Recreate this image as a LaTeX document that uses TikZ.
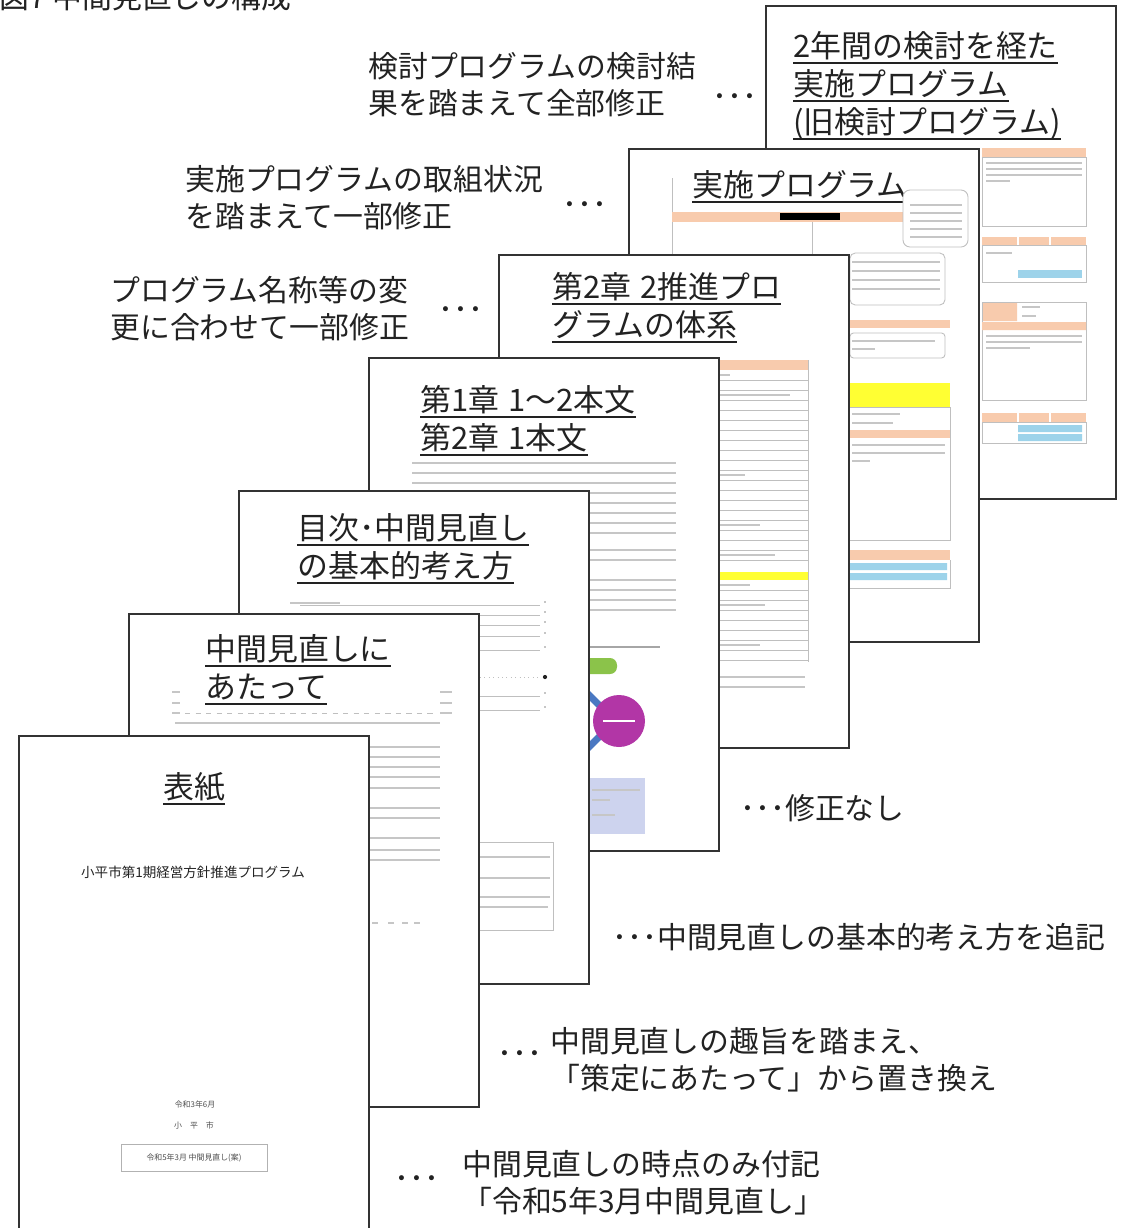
\documentclass[tikz,border=0pt]{standalone}
\usepackage{fontspec}
\setmainfont{Noto Sans CJK JP}
\definecolor{pgline}{HTML}{333333}
\definecolor{ink}{HTML}{222222}
\definecolor{hdr}{HTML}{F8CBAD}
\definecolor{hiyel}{HTML}{FFFF33}
\definecolor{barblue}{HTML}{9DD3EA}
\definecolor{grn}{HTML}{8BC34A}
\definecolor{purp}{HTML}{B236A6}
\definecolor{lnkblue}{HTML}{4A78C2}
\definecolor{lav}{HTML}{CDD3EE}
\newcommand\lblfont{\fontsize{17}{21}\selectfont}
\newcommand\ttlfont{\fontsize{17.6}{21.6}\selectfont}
\newcommand\coverfont{\fontsize{7.7}{9}\selectfont}
\newcommand\tinyfont{\fontsize{4.5}{5.5}\selectfont}
\newcommand\ulx[1]{\setbox0\hbox{#1}\rlap{\vrule height -2.6pt depth 3.7pt width \wd0}\box0}
\newcommand\chgap{\hspace{0.3em}}

\begin{document}
\begin{tikzpicture}[x=0.02cm,y=-0.02cm,
  page/.style={draw=pgline,line width=1.1pt,fill=white,anchor=north west,
    minimum width=7cm,minimum height=9.86cm,inner sep=0pt},
  ttl/.style={anchor=west,align=left,inner sep=0pt,font=\ttlfont,text=ink},
  lbl/.style={anchor=west,align=left,inner sep=0pt,font=\lblfont,text=ink},
  dots/.style={inner sep=0pt,font=\lblfont,text=ink},
  txt/.style={draw=gray!45,line width=1.2pt},
  frame/.style={draw=gray!50,line width=0.5pt},
  mini/.style={inner sep=0pt,font=\tinyfont,text=ink!80}]
\useasboundingbox (0,0) rectangle (1137,1228);
\node[anchor=base west,inner sep=0pt,font=\lblfont,text=ink] (fig) at (-1,8) {図7 中間見直しの構成};

\node[page] (p7) at (765,5) {};
\node[ttl] (t7) at (793,86) {\ulx{2年間の検討を経た}\\\ulx{実施プログラム}\\\ulx{(旧検討プログラム)}};
\fill[hdr] (982,148) rectangle (1086,157);
\draw[frame] (982,157) rectangle (1086,226);
\foreach \y/\e in {163/1082,169/1082,175/1082,181/1010}
    \draw[txt] (986,\y) -- (\e,\y);
\fill[hdr] (982,237) rectangle (1086,245);
\draw[frame] (982,245) rectangle (1086,282);
\draw[txt] (986,253) -- (1012,253);
\fill[barblue] (1018,270) rectangle (1082,278);
\draw[frame] (982,302) rectangle (1086,400);
\fill[hdr] (983,303) rectangle (1017,321) (982,322) rectangle (1086,330);
\draw[txt] (1022,307) -- (1040,307) (1022,316) -- (1036,316);
\foreach \y/\e in {336/1082,342/1082,348/1030}
    \draw[txt] (986,\y) -- (\e,\y);
\fill[hdr] (982,413) rectangle (1086,422);
\draw[frame] (982,422) rectangle (1086,443);
\fill[barblue] (1018,425) rectangle (1082,432) (1018,434) rectangle (1082,441);
\draw[white,line width=0.8pt] (1018,237) -- (1018,245) (1050,237) -- (1050,245) (1018,413) -- (1018,422) (1050,413) -- (1050,422);

\node[page] (p6) at (628,148) {};
\node[ttl] (t6) at (692,187) {\ulx{実施プログラム}};
\draw[frame] (672,178) -- (672,260) (812,222) -- (812,260);
\fill[hdr] (672,212) rectangle (905,222);
\fill[black] (780,213) rectangle (840,220);
\draw[frame,rounded corners=4pt,fill=white] (903,190) rectangle (968,247);
\foreach \y in {205,213,221,229,237}
    \draw[txt,line width=0.8pt] (910,\y) -- (962,\y);
\draw[frame,rounded corners=3pt] (850,253) rectangle (945,305);
\foreach \y in {262,271,280,289}
    \draw[txt] (852,\y) -- (940,\y);
\fill[hdr] (848,320) rectangle (950,328);
\draw[frame,rounded corners=2pt] (850,333) rectangle (945,358);
\draw[txt] (852,341) -- (935,341) (852,349) -- (875,349);
\fill[hiyel] (848,383) rectangle (950,407);
\draw[txt] (852,414) -- (900,414) (852,423) -- (893,423);
\fill[hdr] (848,430) rectangle (950,438);
\draw[txt] (852,445) -- (945,445) (852,453) -- (945,453) (852,461) -- (870,461);
\draw[frame] (848,407) -- (950,407) -- (950,540) -- (848,540);
\fill[hdr] (848,550) rectangle (950,560);
\fill[barblue] (850,563) rectangle (947,570) (850,573) rectangle (947,580);
\draw[frame] (950,560) -- (950,588) -- (848,588);

\node[page] (p5) at (498,254) {};
\node[ttl] (t5) at (552,308) {\ulx{第2章\chgap 2推進プロ}\\\ulx{グラムの体系}};
\fill[hdr] (700,360) rectangle (808,370);
\foreach \y in {380,390,...,560}
    \draw[frame] (700,\y) -- (808,\y);
\fill[hiyel] (700,572) rectangle (808,580);
\foreach \y in {590,600,...,660}
    \draw[frame] (700,\y) -- (808,\y);
\draw[frame] (808,360) -- (808,662);
\foreach \y/\e in {375/730,395/790,475/745,525/760,555/775,585/750,605/765,645/760}
    \draw[txt,line width=0.9pt] (720,\y) -- (\e,\y);
\draw[txt] (720,677) -- (805,677) (720,687) -- (805,687);

\node[page] (p4) at (368,357) {};
\node[ttl] (t4) at (420,421) {\ulx{第1章\chgap 1～2本文}\\\ulx{第2章\chgap 1本文}};
\foreach \y in {463,473,...,533,550,560,580,590,600,610}
    \draw[txt] (412,\y) -- (676,\y);
\draw[txt,draw=gray!70] (420,647) -- (660,647);
\fill[grn,rounded corners=4pt] (560,658) rectangle (617,674);
\draw[lnkblue,line width=4pt] (572,678) -- (600,706) (600,736) -- (572,764);
\fill[purp] (619,721) circle (0.52cm);
\draw[white,line width=0.8pt] (603,721) -- (635,721);
\fill[lav] (560,778) rectangle (645,834);
\draw[txt,line width=0.8pt] (592,790) -- (640,790) (592,800) -- (610,800) (592,815) -- (615,815);

\node[page] (p3) at (238,490) {};
\node[ttl] (t3) at (297,549) {\ulx{目次･中間見直し}\\\ulx{の基本的考え方}};
\draw[txt,line width=1pt] (290,603) -- (340,603);
\foreach \y in {605,615,625,636,650,696,710}{
    \draw[frame] (300,\y) -- (540,\y);
    \draw[txt,line width=1pt] (544,\y-3) -- (546,\y-3);
}
\draw[frame,dotted] (300,677) -- (538,677);
\fill[ink] (545,677) circle (1.2pt);
\draw[frame] (477,842) rectangle (553,930);
\foreach \y/\e in {857/550,878/550,897/550,907/548}
    \draw[txt,line width=1pt] (479,\y) -- (\e,\y);

\node[page] (p2) at (128,613) {};
\node[ttl] (t2) at (205,670) {\ulx{中間見直しに}\\\ulx{あたって}};
\foreach \y in {692,703,713}
    \draw[txt,line width=1pt] (440,\y) -- (452,\y) (172,\y) -- (180,\y);
\draw[frame,dashed] (185,713) -- (435,713);
\foreach \y in {723,747,757,767,777,788,808,818,838,850,860}
    \draw[txt] (175,\y) -- (440,\y);
\foreach \x in {372,388,402,414}
    \draw[txt] (\x,923) -- (\x+6,923);

\node[page] (p1) at (18,735) {};
\node[ttl,anchor=center] (t1) at (194,789) {\ulx{表紙}};
\node[inner sep=0pt,font=\coverfont,text=ink] (pname) at (193,872) {小平市第1期経営方針推進プログラム};
\node[mini] (date) at (195,1104) {令和3年6月};
\node[mini] (city) at (194,1125) {小\quad 平\quad 市};
\node[draw=gray!60,line width=0.5pt,minimum width=2.92cm,minimum height=0.54cm,font=\tinyfont,text=ink!80,inner sep=0pt] (stamp) at (194,1158) {令和5年3月\ 中間見直し(案)};

\node[lbl] (l7) at (368,85) {検討プログラムの検討結\\果を踏まえて全部修正};
\node[dots] (d7) at (735,101) {･･･};
\node[lbl] (l6) at (185,198) {実施プログラムの取組状況\\を踏まえて一部修正};
\node[dots] (d6) at (585,209) {･･･};
\node[lbl] (l5) at (110,309) {プログラム名称等の変\\更に合わせて一部修正};
\node[dots] (d5) at (461,314) {･･･};
\node[lbl] (l4) at (740,808) {･･･修正なし};
\node[lbl] (l3) at (612,937) {･･･中間見直しの基本的考え方を追記};
\node[dots] (d2) at (520,1058) {･･･};
\node[lbl] (l2) at (550,1060) {中間見直しの趣旨を踏まえ、\\「策定にあたって」から置き換え};
\node[dots] (d1) at (417,1183) {･･･};
\node[lbl] (l1) at (462,1183) {中間見直しの時点のみ付記\\「令和5年3月中間見直し」};
\end{tikzpicture}
\end{document}
